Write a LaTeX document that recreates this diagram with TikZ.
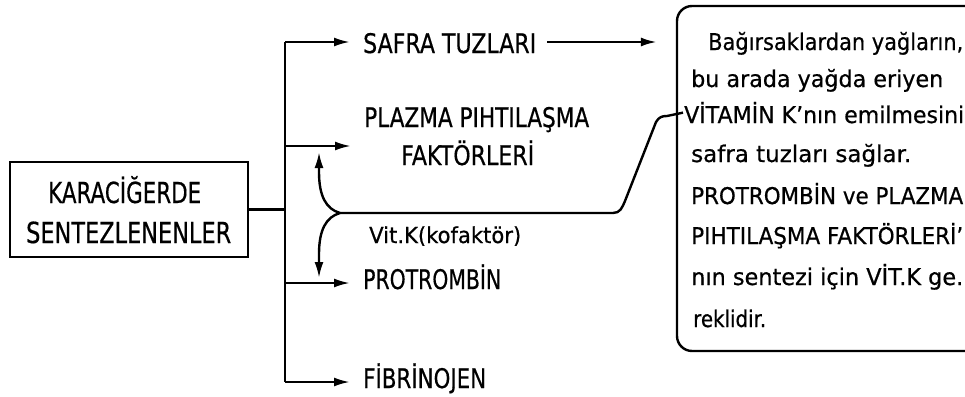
\documentclass[tikz,border=0pt]{standalone}
\usepackage{fontspec}
\setmainfont[FakeBold=0.6]{DejaVu Sans}
\usetikzlibrary{arrows.meta}
\newcommand\fitw[2]{\resizebox{#1pt}{\height}{#2}}
\begin{document}
\begin{tikzpicture}[x=1pt,y=-1pt,line width=2.4pt,
  lbl/.style={inner sep=0pt,anchor=base west,font=\fontsize{27}{27}\selectfont},
  srctxt/.style={inner sep=0pt,anchor=base west,font=\fontsize{29}{29}\selectfont},
  vtxt/.style={inner sep=0pt,anchor=base west,font=\fontsize{22}{22}\selectfont},
  ntxt/.style={inner sep=0pt,anchor=base west,font=\fontsize{23}{23}\selectfont},
  arr/.style={-{Latex[length=16pt,width=9pt]}}]
\useasboundingbox (0,0) rectangle (965,396);
\clip (0,0) rectangle (965,396);
% source box
\node[draw,inner sep=0pt,minimum width=238pt,minimum height=95pt] (src) at (129,209.5) {};
\node[srctxt] (k1) at (47,203) {\fitw{153}{KARACİĞERDE}};
\node[srctxt] (k2) at (25,243) {\fitw{205}{SENTEZLENENLER}};
% note box
\node[draw,rounded corners=15pt,inner sep=0pt,minimum width=303pt,minimum height=345pt] (note) at (828.5,178.5) {};
% labels
\node[lbl] (safra) at (362,53) {\fitw{173}{SAFRA TUZLARI}};
\node[lbl] (plazma) at (363,127) {\fitw{225}{PLAZMA PIHTILAŞMA}};
\node[lbl] (faktor) at (400,165) {\fitw{133}{FAKTÖRLERİ}};
\node[lbl] (protro) at (362,289) {\fitw{138}{PROTROMBİN}};
\node[lbl] (fibri) at (362,388) {\fitw{123}{FİBRİNOJEN}};
\node[vtxt] (vitk) at (368,243) {\fitw{152}{Vit.K(kofaktör)}};
% note text
\node[ntxt] (n1) at (707,50) {\fitw{255}{Bağırsaklardan yağların,}};
\node[ntxt] (n2) at (690,87) {\fitw{252}{bu arada yağda eriyen}};
\node[ntxt] (n3) at (683,123) {\fitw{280}{VİTAMİN K'nın emilmesini}};
\node[ntxt] (n4) at (690,162) {\fitw{220}{safra tuzları sağlar.}};
\node[ntxt] (n5) at (690,204) {\fitw{272}{PROTROMBİN ve PLAZMA}};
\node[ntxt] (n6) at (690,244) {\fitw{272}{PIHTILAŞMA FAKTÖRLERİ'}};
\node[ntxt] (n7) at (690,285) {\fitw{272}{nın sentezi için VİT.K ge.}};
\node[ntxt] (n8) at (692,327) {\fitw{73}{reklidir.}};
% trunk
\coordinate (tA) at (285,42);
\coordinate (tB) at (285,146);
\coordinate (tC) at (285,283);
\coordinate (tD) at (285,382);
\draw (src.east) -- (src.east -| tA);
\draw (tA) -- (tD);
\draw[arr] (tA) -- ([xshift=-12pt]tA -| safra.west);
\draw[arr] (tB) -- ([xshift=-12pt]tB -| plazma.west);
\draw[arr] (tC) -- ([xshift=-12pt]tC -| protro.west);
\draw[arr] (tD) -- ([xshift=-12pt]tD -| fibri.west);
\draw[arr] ([xshift=10pt]tA -| safra.east) -- ([xshift=-19pt]tA -| note.west);
% vitamin K path
\coordinate (J) at (340,213);
\draw (J) -- (613,213) .. controls (620,213) and (622,208) .. (625,201)
  -- (656,122) .. controls (659,117) and (662,116) .. (667,116) -- (n3.west);
\draw[arr] (J) .. controls (326,209) and (319,196) .. (319,172) -- (319,152);
\draw[arr] (J) .. controls (326,217) and (319,230) .. (319,254) -- (319,278);
\end{tikzpicture}
\end{document}
